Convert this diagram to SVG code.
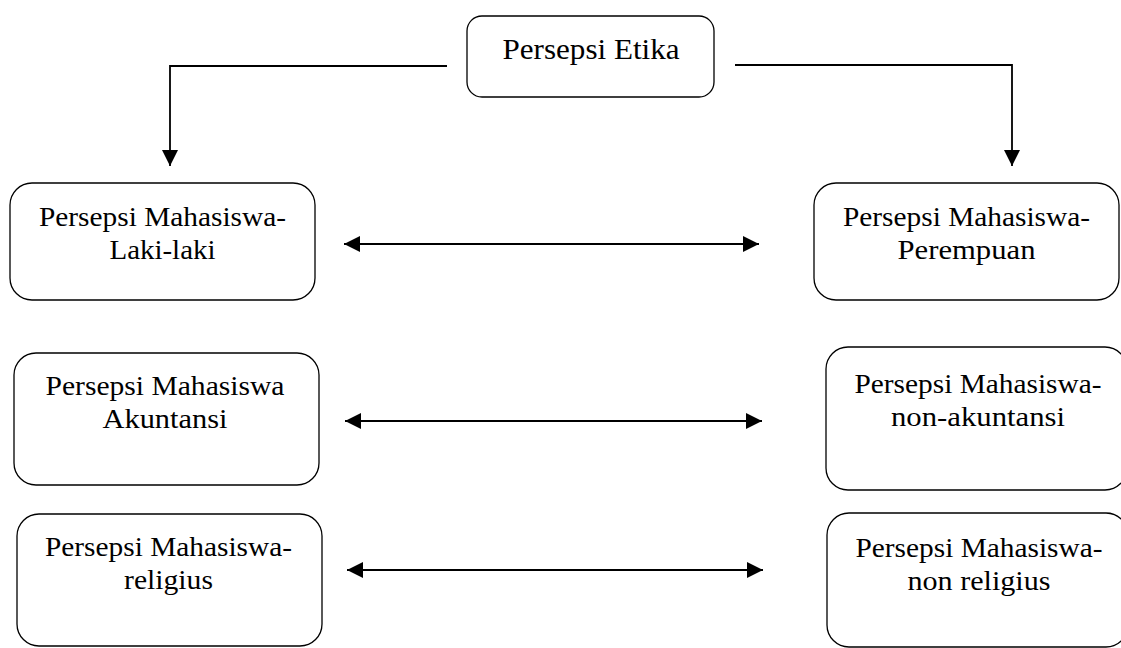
<svg xmlns="http://www.w3.org/2000/svg" width="1121" height="648" viewBox="0 0 1121 648">
  <defs>
    <style>
      .box { fill: #ffffff; stroke: #000000; stroke-width: 1.3; }
      .lbl { font-family: "Liberation Serif", "Times New Roman", serif; font-size: 27px; fill: #000000; text-anchor: middle; }
      .ttl { font-size: 29px; }
      .conn { fill: none; stroke: #000000; stroke-width: 1.8; }
    </style>
    <marker id="ah" viewBox="0 0 16 16" refX="16" refY="8" markerWidth="16" markerHeight="16" markerUnits="userSpaceOnUse" orient="auto-start-reverse">
      <path d="M0,0 L16,8 L0,16 Z" fill="#000000"/>
    </marker>
  </defs>
  <rect width="1121" height="648" fill="#ffffff"/>

  <g id="connectors">
    <polyline class="conn" points="447,66 170,66 170,166" marker-end="url(#ah)"/>
    <polyline class="conn" points="735,65 1012,65 1012,166" marker-end="url(#ah)"/>
    <line class="conn" x1="344" y1="244" x2="759" y2="244" marker-start="url(#ah)" marker-end="url(#ah)"/>
    <line class="conn" x1="345" y1="421" x2="762" y2="421" marker-start="url(#ah)" marker-end="url(#ah)"/>
    <line class="conn" x1="347" y1="570" x2="763" y2="570" marker-start="url(#ah)" marker-end="url(#ah)"/>
  </g>

  <g id="node-etika">
    <rect class="box" x="467" y="16" width="247" height="81" rx="15"/>
    <text class="lbl ttl" x="591" y="59" textLength="177" lengthAdjust="spacingAndGlyphs">Persepsi Etika</text>
  </g>

  <g id="node-laki">
    <rect class="box" x="10" y="183" width="305" height="117" rx="22"/>
    <text class="lbl" x="162.5" y="226" textLength="247" lengthAdjust="spacingAndGlyphs">Persepsi Mahasiswa-</text>
    <text class="lbl" x="162.5" y="259" textLength="106" lengthAdjust="spacingAndGlyphs">Laki-laki</text>
  </g>

  <g id="node-perempuan">
    <rect class="box" x="814" y="183" width="305" height="117" rx="22"/>
    <text class="lbl" x="966.5" y="226" textLength="247" lengthAdjust="spacingAndGlyphs">Persepsi Mahasiswa-</text>
    <text class="lbl" x="966.5" y="259" textLength="138" lengthAdjust="spacingAndGlyphs">Perempuan</text>
  </g>

  <g id="node-akuntansi">
    <rect class="box" x="14" y="353" width="305" height="132" rx="22"/>
    <text class="lbl" x="165" y="395" textLength="239" lengthAdjust="spacingAndGlyphs">Persepsi Mahasiswa</text>
    <text class="lbl" x="165" y="428" textLength="125" lengthAdjust="spacingAndGlyphs">Akuntansi</text>
  </g>

  <g id="node-non-akuntansi">
    <rect class="box" x="826" y="347" width="301" height="143" rx="22"/>
    <text class="lbl" x="978" y="393" textLength="247" lengthAdjust="spacingAndGlyphs">Persepsi Mahasiswa-</text>
    <text class="lbl" x="978" y="426" textLength="174" lengthAdjust="spacingAndGlyphs">non-akuntansi</text>
  </g>

  <g id="node-religius">
    <rect class="box" x="17" y="514" width="305" height="132" rx="22"/>
    <text class="lbl" x="168.5" y="556" textLength="247" lengthAdjust="spacingAndGlyphs">Persepsi Mahasiswa-</text>
    <text class="lbl" x="168.5" y="589" textLength="89" lengthAdjust="spacingAndGlyphs">religius</text>
  </g>

  <g id="node-non-religius">
    <rect class="box" x="827" y="513" width="301" height="134" rx="22"/>
    <text class="lbl" x="979" y="557" textLength="247" lengthAdjust="spacingAndGlyphs">Persepsi Mahasiswa-</text>
    <text class="lbl" x="979" y="590" textLength="143" lengthAdjust="spacingAndGlyphs">non religius</text>
  </g>
</svg>
